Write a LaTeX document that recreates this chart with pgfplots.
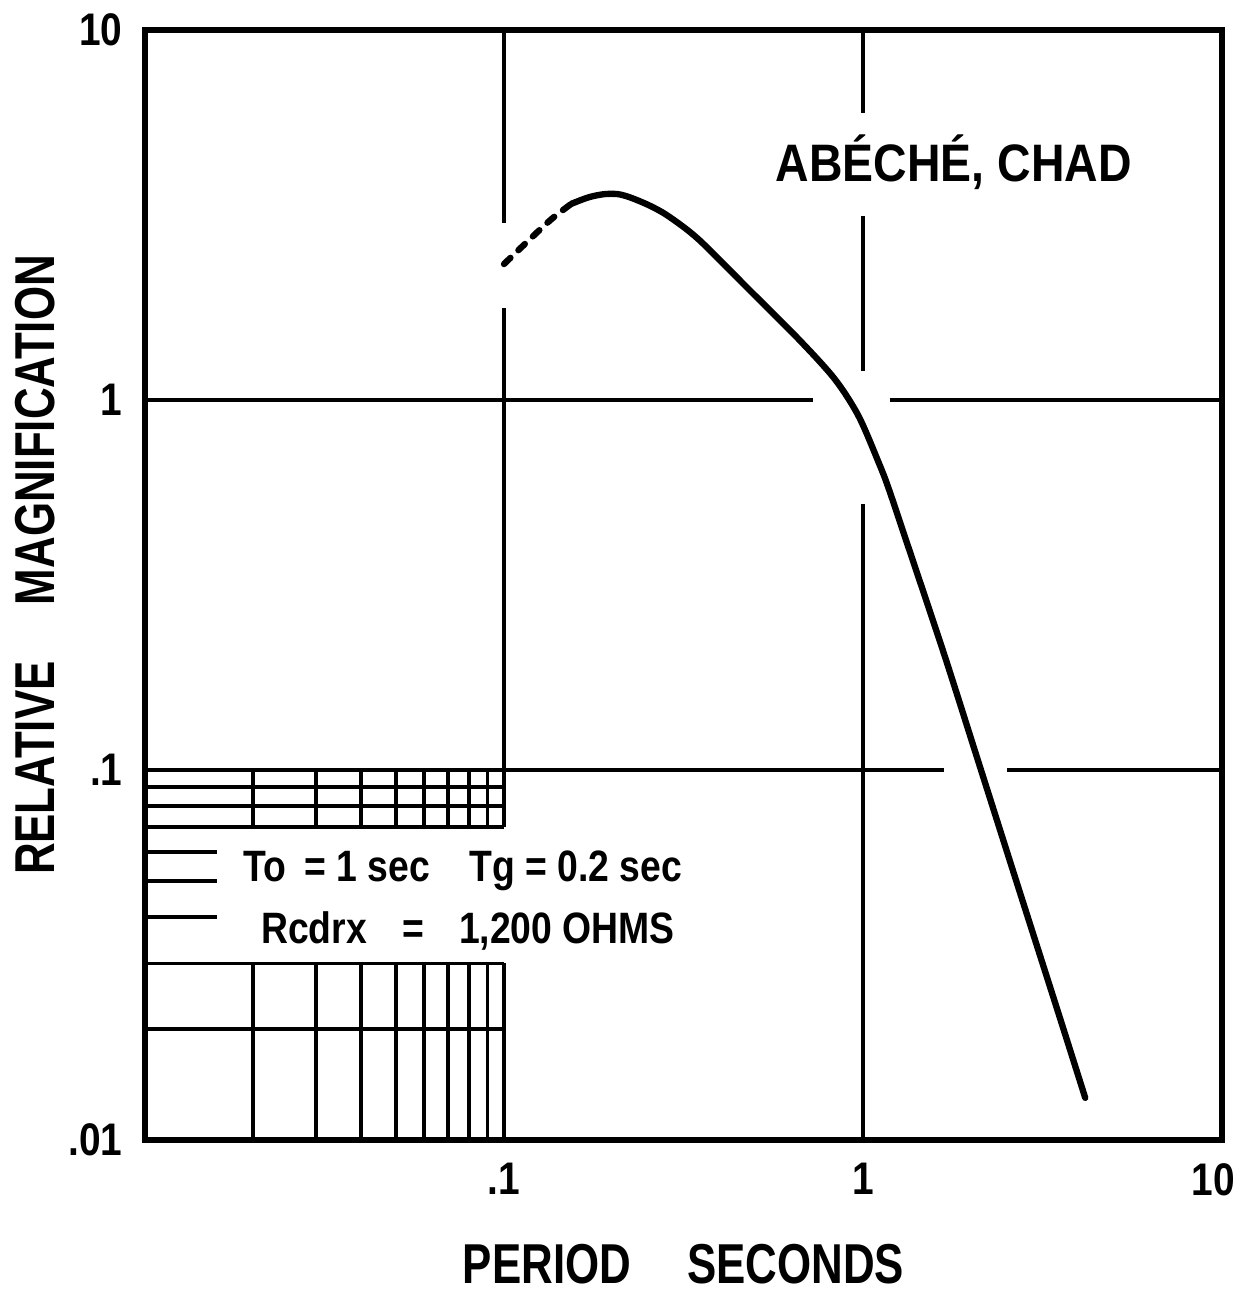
\documentclass[border=0pt]{standalone}
\usepackage{fontspec}
\setmainfont{Liberation Sans}
\newfontfamily\cond[FakeStretch=0.78]{Liberation Sans}
\newfontfamily\condb[FakeStretch=0.85]{Liberation Sans}
\newfontfamily\condc[FakeStretch=0.88]{Liberation Sans}
\usepackage{pgfplots}
\pgfplotsset{compat=1.18}
\begin{document}
\begin{tikzpicture}
\begin{axis}[
  scale only axis, width=107.7mm, height=111mm,
  xmode=log, ymode=log, xmin=0.01, xmax=10, ymin=0.01, ymax=10,
  axis line style={line width=1.5pt},
  xtick={0.1,1,10}, xticklabels={.1,1,\makebox[0pt][r]{10\kern-1.3mm}},
  ytick={0.01,0.1,1,10}, yticklabels={.01,.1,1,10},
  major tick length=0pt, minor tick length=0pt,
  /pgf/number format/assume math mode=true,
  tick label style={font=\condb\bfseries\fontsize{13}{13}\selectfont},
  xticklabel style={yshift=-1.1mm},
  yticklabel style={xshift=-1.0mm},
  xlabel={PERIOD\hspace{1.0em}SECONDS},
  xlabel style={at={(rel axis cs:0.5,0)}, anchor=north, yshift=-9.2mm, font=\cond\bfseries\fontsize{16}{16}\selectfont},
  ylabel={RELATIVE\hspace{1.0em}MAGNIFICATION},
  ylabel style={at={(rel axis cs:0,0.518)}, anchor=base, yshift=9.0mm, font=\cond\bfseries\fontsize{16}{16}\selectfont},
  clip=false,
]
\coordinate (sw) at (rel axis cs:0,0);
\coordinate (ne) at (rel axis cs:1,1);
% major grid lines (with gaps as in the original)
\tikzset{gl/.style={line width=1.1pt}}
\draw[gl] (axis cs:0.01,1) -- (axis cs:0.728,1);
\draw[gl] (axis cs:1.187,1) -- (axis cs:10,1);
\draw[gl] (axis cs:0.01,0.1) -- (axis cs:1.68,0.1);
\draw[gl] (axis cs:2.52,0.1) -- (axis cs:10,0.1);
\draw[gl] (axis cs:0.1,10) -- (axis cs:0.1,3.01);
\draw[gl] (axis cs:0.1,1.77) -- (axis cs:0.1,0.07);
\draw[gl] (axis cs:0.1,0.03) -- (axis cs:0.1,0.01);
\draw[gl] (axis cs:1,10) -- (axis cs:1,5.97);
\draw[gl] (axis cs:1,3.14) -- (axis cs:1,1.20);
\draw[gl] (axis cs:1,0.523) -- (axis cs:1,0.01);
% minor grid in lower left
\pgfplotsinvokeforeach{0.09,0.08,0.07,0.03,0.02}{
  \draw[gl] (axis cs:0.01,#1) -- (axis cs:0.1,#1);
}
\pgfplotsinvokeforeach{0.06,0.05,0.04}{
  \draw[gl] (axis cs:0.01,#1) -- (axis cs:0.0159,#1);
}
\pgfplotsinvokeforeach{0.02,0.03,0.04,0.05,0.06,0.07,0.08,0.09}{
  \draw[gl] (axis cs:#1,0.1) -- (axis cs:#1,0.07);
  \draw[gl] (axis cs:#1,0.03) -- (axis cs:#1,0.01);
}
% response curve
\addplot[black, line width=1.8pt, smooth, tension=0.5, dash pattern=on 0.9mm off 1.1mm, line cap=round]
  coordinates {(0.1,2.33) (0.119,2.74) (0.136,3.09) (0.154,3.39)};
\addplot[black, line width=1.8pt, smooth, tension=0.5, line cap=round]
  coordinates {
  (0.154,3.39) (0.172,3.53) (0.190,3.60) (0.208,3.60) (0.226,3.52)
  (0.255,3.35) (0.287,3.14) (0.348,2.72) (0.480,1.995) (0.662,1.46)
  (0.834,1.14) (0.972,0.905) (1.107,0.676) (1.18,0.575) (1.343,0.396)
  (1.69,0.203) (2.10,0.1047) (2.44,0.0662) (2.73,0.0470) (3.52,0.0217)
  (4.16,0.0130)};
% annotations
\node[font=\condc\bfseries\fontsize{15}{15}\selectfont] at (axis cs:1.79,4.40) {ABÉCHÉ, CHAD};
\node[font=\condb\bfseries\fontsize{12.5}{12.5}\selectfont] at (axis cs:0.0769,0.0533) {To\hspace{0.4em}= 1 sec\hspace{0.9em}Tg = 0.2 sec};
\node[font=\condb\bfseries\fontsize{12.5}{12.5}\selectfont] at (axis cs:0.0794,0.0367) {Rcdrx\hspace{0.8em}=\hspace{0.8em}1,200 OHMS};
\end{axis}
\pgfresetboundingbox
\path ([shift={(-14.5mm,-15.7mm)}]sw) rectangle ([shift={(1.6mm,3.0mm)}]ne);
\end{tikzpicture}
\end{document}
